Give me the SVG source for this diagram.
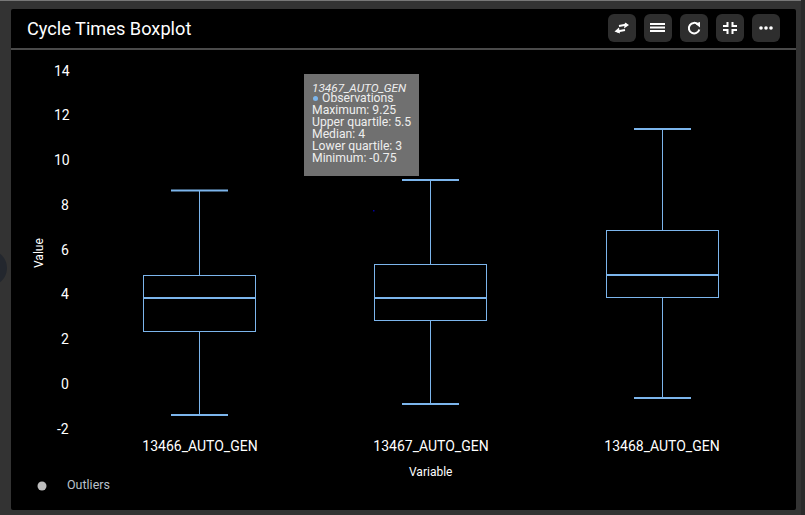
<svg xmlns="http://www.w3.org/2000/svg" width="805" height="515" viewBox="0 0 805 515">
<style>
text{font-family:Roboto,"Liberation Sans",sans-serif}
.tick{fill:#fff;font-size:14px}
.ax{fill:#fff;font-size:12px}
.cat{fill:#fff;font-size:14px;text-anchor:middle}
.tip{fill:#eee;font-size:12.2px}
.btn{fill:#2e2e2e}
.ic{stroke:#fff;fill:none;stroke-width:2}
.bx{fill:none;stroke:#7cb5ec;stroke-width:1}
.cap{fill:none;stroke:#7cb5ec;stroke-width:2}
.med{stroke:#7cb5ec;stroke-width:2}
</style>
<rect width="805" height="515" fill="#333"/>
<rect x="0" y="0" width="805" height="1" fill="#777"/>
<rect x="801" y="0" width="4" height="515" fill="#2a2a2a"/>
<circle cx="-11" cy="268" r="18" fill="#23272e"/>
<rect x="11" y="9" width="785" height="501" rx="2" fill="#000"/>
<rect x="11" y="48" width="785" height="2" fill="#4a4a4a"/>
<rect x="373" y="210" width="1.500" height="1.500" fill="#0000a0"/>
<g id="title"><text x="27" y="35" fill="#fff" font-size="18.200">Cycle Times Boxplot</text></g>
<g id="toolbar">
<g id="btn-swap"><rect class="btn" x="608" y="14" width="28" height="28" rx="6"/><path class="ic" d="M617 31.500L625 30M627 24.500L619 26" stroke-width="1.600"/><path d="M619 27.500L614.500 31.500L620 33.500zM625 22.500L629 25L624 28.500z" fill="#fff"/></g>
<g id="btn-list"><rect class="btn" x="644" y="14" width="28" height="28" rx="6"/><path class="ic" d="M650 24h15M650 27.500h15M650 31h15"/></g>
<g id="btn-refresh"><rect class="btn" x="680" y="14" width="28" height="28" rx="6"/><path class="ic" d="M698 24.500a5.300 5.300 0 1 0 1.300 5" stroke-width="2.200"/><path d="M695 23.500L700 22V27.500z" fill="#fff"/></g>
<g id="btn-compress"><rect class="btn" x="716" y="14" width="28" height="28" rx="6"/><path class="ic" d="M727.500 22v4h-4.500M732.500 22v4h4.500M727.500 34v-4h-4.500M732.500 34v-4h4.500"/></g>
<g id="btn-more"><rect class="btn" x="752" y="14" width="28" height="28" rx="6"/><circle cx="761" cy="28" r="1.800" fill="#fff"/><circle cx="766" cy="28" r="1.800" fill="#fff"/><circle cx="771" cy="28" r="1.800" fill="#fff"/></g>
</g>
<g id="y-axis">
<text class="tick" x="54" y="76">14</text>
<text class="tick" x="54" y="120">12</text>
<text class="tick" x="54" y="165">10</text>
<text class="tick" x="61" y="210">8</text>
<text class="tick" x="61" y="255">6</text>
<text class="tick" x="61" y="299">4</text>
<text class="tick" x="61" y="344">2</text>
<text class="tick" x="61" y="389">0</text>
<text class="tick" x="57" y="434">-2</text>
<text class="ax" transform="translate(43 268) rotate(-90)">Value</text>
<text class="ax" x="409" y="476">Variable</text>
</g>
<g id="x-axis">
<text class="cat" x="200" y="451">13466_AUTO_GEN</text>
<text class="cat" x="431" y="451">13467_AUTO_GEN</text>
<text class="cat" x="662" y="451">13468_AUTO_GEN</text>
</g>
<g id="connectors">
<path class="bx" d="M199.500 190.500V275.500M199.500 331.500V415"/><path class="cap" d="M171 190.500H228M171 415H228"/>
<path class="bx" d="M430.500 180V264.500M430.500 320.500V404"/><path class="cap" d="M402 180H459M402 404H459"/>
<path class="bx" d="M662.500 129V231M662.500 297.500V398"/><path class="cap" d="M634 129H691M634 398H691"/>
</g>
<g id="box-13466"><rect class="bx" x="143.500" y="275.500" width="112" height="56"/><path class="med" d="M143.500 298H255.500"/></g>
<g id="box-13467"><rect class="bx" x="374.500" y="264.500" width="112" height="56"/><path class="med" d="M374.500 298H486.500"/></g>
<g id="box-13468"><rect class="bx" x="606.500" y="230.500" width="112" height="67"/><path class="med" d="M606.500 275H718.500"/></g>
<g id="legend"><circle cx="42" cy="486" r="4.500" fill="#bdbdbd"/><text x="67" y="489" fill="#b8c0ca" font-size="12.500">Outliers</text></g>
<g id="tooltip">
<rect x="304" y="74" width="115" height="102" fill="#707070"/>
<text class="tip" x="312" y="92" font-style="italic" style="font-size:11.800px">13467_AUTO_GEN</text>
<circle cx="315.500" cy="98.500" r="2.500" fill="#7cb5ec"/>
<text class="tip" x="322" y="102">Observations</text>
<text class="tip" x="312" y="114">Maximum: 9.25</text>
<text class="tip" x="312" y="126">Upper quartile: 5.5</text>
<text class="tip" x="312" y="138">Median: 4</text>
<text class="tip" x="312" y="150">Lower quartile: 3</text>
<text class="tip" x="312" y="162">Minimum: -0.75</text>
</g>
</svg>
